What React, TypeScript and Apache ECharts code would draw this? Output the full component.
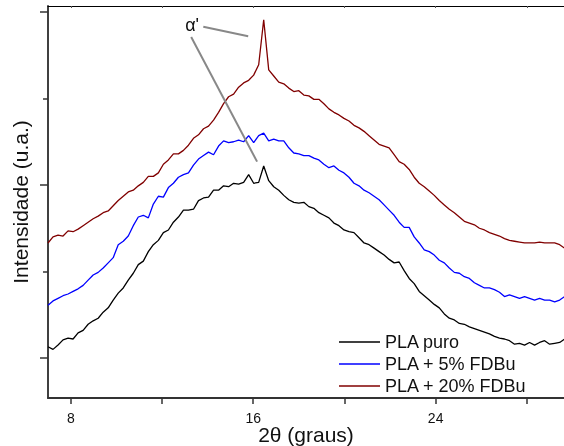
import React, { useEffect, useRef } from "react";
import * as echarts from "echarts";

// 2θ sampling grid of the diffractograms (degrees)
const TWO_THETA_START = 7.0;
const TWO_THETA_STEP = 0.22;

// Intensities (a.u., already vertically offset as in the figure)
const plaPuro = [
  0.13, 0.10, 0.15, 0.21, 0.23, 0.22, 0.29, 0.32, 0.39, 0.43,
  0.46, 0.53, 0.58, 0.67, 0.75, 0.81, 0.90, 0.98, 1.08, 1.12,
  1.23, 1.31, 1.36, 1.45, 1.48, 1.57, 1.63, 1.71, 1.71, 1.72,
  1.82, 1.85, 1.86, 1.94, 1.94, 1.99, 1.98, 2.02, 2.01, 2.03,
  2.12, 2.02, 2.03, 2.22, 2.05, 1.98, 1.94, 1.88, 1.83, 1.80,
  1.79, 1.80, 1.75, 1.73, 1.68, 1.65, 1.62, 1.56, 1.53, 1.48,
  1.46, 1.45, 1.39, 1.33, 1.31, 1.27, 1.23, 1.19, 1.14, 1.10,
  1.11, 1.01, 0.92, 0.86, 0.77, 0.72, 0.67, 0.62, 0.58, 0.51,
  0.46, 0.44, 0.40, 0.39, 0.36, 0.34, 0.32, 0.30, 0.28, 0.25,
  0.23, 0.22, 0.20, 0.16, 0.17, 0.15, 0.18, 0.15, 0.18, 0.20,
  0.16, 0.17, 0.18, 0.22,
];

const pla5 = [
  0.61, 0.66, 0.69, 0.72, 0.74, 0.77, 0.80, 0.84, 0.90, 0.96,
  0.99, 1.04, 1.10, 1.16, 1.31, 1.35, 1.41, 1.53, 1.63, 1.65,
  1.62, 1.78, 1.87, 1.86, 1.97, 2.02, 2.09, 2.12, 2.14, 2.23,
  2.30, 2.34, 2.38, 2.35, 2.45, 2.51, 2.49, 2.50, 2.52, 2.50,
  2.57, 2.49, 2.57, 2.60, 2.51, 2.53, 2.51, 2.51, 2.43, 2.37,
  2.36, 2.34, 2.34, 2.31, 2.29, 2.24, 2.20, 2.22, 2.17, 2.14,
  2.09, 2.02, 1.99, 1.94, 1.91, 1.87, 1.83, 1.77, 1.71, 1.65,
  1.57, 1.51, 1.51, 1.40, 1.33, 1.25, 1.23, 1.19, 1.13, 1.10,
  1.04, 0.99, 0.98, 0.94, 0.92, 0.87, 0.84, 0.81, 0.81, 0.79,
  0.76, 0.71, 0.73, 0.71, 0.69, 0.71, 0.69, 0.67, 0.69, 0.67,
  0.67, 0.65, 0.67, 0.71,
];

const pla20 = [
  1.33, 1.40, 1.42, 1.41, 1.47, 1.46, 1.49, 1.53, 1.57, 1.61,
  1.64, 1.68, 1.70, 1.76, 1.82, 1.87, 1.92, 1.94, 1.99, 2.03,
  2.10, 2.10, 2.14, 2.24, 2.29, 2.36, 2.36, 2.40, 2.46, 2.54,
  2.58, 2.65, 2.68, 2.75, 2.84, 2.94, 3.02, 3.05, 3.13, 3.18,
  3.21, 3.27, 3.39, 3.91, 3.33, 3.26, 3.19, 3.17, 3.12, 3.08,
  3.09, 3.04, 3.03, 2.99, 2.99, 2.94, 2.88, 2.84, 2.81, 2.77,
  2.74, 2.69, 2.66, 2.62, 2.57, 2.52, 2.47, 2.45, 2.43, 2.35,
  2.27, 2.24, 2.18, 2.09, 2.02, 1.98, 1.93, 1.88, 1.82, 1.77,
  1.72, 1.68, 1.63, 1.58, 1.56, 1.54, 1.50, 1.48, 1.45, 1.43,
  1.41, 1.38, 1.36, 1.35, 1.34, 1.33, 1.33, 1.33, 1.34, 1.33,
  1.33, 1.33, 1.31, 1.27,
];

const seriesNames = ["PLA puro", "PLA + 5% FDBu", "PLA + 20% FDBu"];
const seriesColors = ["#000000", "#0000ff", "#800000"];

const xTickValues = [8, 12, 16, 20, 24, 28];
const xLabelValues = [8, 16, 24];
const yMajorTicks = [0, 2, 4];
const yMinorTicks = [1, 3];

// α' annotation (data coordinates)
const alphaLabelPos = [13.32, 3.85];
const alphaLines = [
  [[13.81, 3.83], [15.78, 3.72]],
  [[13.28, 3.71], [16.17, 2.27]],
];

const X_MIN = 7.0;
const X_MAX = 29.63;
const Y_MIN = -0.462;
const Y_MAX = 4.069;

const FONT = "'Liberation Sans', Arial, Helvetica, sans-serif";

const toPairs = (ys: number[]) =>
  ys.map((y, i) => [+(TWO_THETA_START + TWO_THETA_STEP * i).toFixed(2), y]);

export default function App() {
  const ref = useRef<HTMLDivElement>(null);

  useEffect(() => {
    if (!ref.current) return;
    const chart = echarts.init(ref.current, null, { renderer: "svg" });
    const allData = [plaPuro, pla5, pla20];

    const series: any[] = allData.map((d, i) => ({
      name: seriesNames[i],
      type: "line",
      data: toPairs(d),
      showSymbol: false,
      symbol: "none",
      lineStyle: { color: seriesColors[i], width: 1.3 },
      itemStyle: { color: seriesColors[i] },
      clip: true,
      z: 3,
    }));

    series.push({
      name: "annotation",
      type: "line",
      data: [],
      silent: true,
      markLine: {
        silent: true,
        symbol: "none",
        label: { show: false },
        lineStyle: { color: "#888888", width: 2, type: "solid" },
        data: alphaLines.map(([a, b]) => [{ coord: a }, { coord: b }]),
      },
      markPoint: {
        silent: true,
        symbol: "circle",
        symbolSize: 0,
        label: {
          show: true,
          position: "inside",
          formatter: "α'",
          fontSize: 18,
          color: "#111",
          fontFamily: FONT,
        },
        data: [{ coord: alphaLabelPos }],
      },
    });

    chart.setOption({
      animation: false,
      grid: {
        left: 48,
        right: 0,
        top: 6,
        bottom: 48,
        containLabel: false,
        outerBoundsMode: "none",
      },
      legend: {
        data: seriesNames,
        orient: "vertical",
        left: 339,
        top: 333,
        padding: 0,
        itemWidth: 41,
        itemHeight: 14,
        itemGap: 4,
        textStyle: { fontSize: 18, color: "#111", fontFamily: FONT },
        icon: "path://M0,0 L41,0 L41,1.4 L0,1.4 Z",
      },
      xAxis: [
        {
          type: "value",
          min: X_MIN,
          max: X_MAX,
          position: "bottom",
          name: "2θ (graus)",
          nameLocation: "middle",
          nameGap: 26,
          nameMoveOverlap: false,
          nameTextStyle: { fontSize: 21, color: "#111", fontFamily: FONT },
          axisLine: { show: true, onZero: false, lineStyle: { color: "#333", width: 2 } },
          axisTick: {
            show: true,
            length: 6,
            customValues: xTickValues,
            lineStyle: { color: "#333", width: 1.5 },
          },
          axisLabel: {
            show: true,
            customValues: xLabelValues,
            fontSize: 14,
            margin: 13,
            color: "#111",
            fontFamily: FONT,
          },
          splitLine: { show: false },
        },
        {
          type: "value",
          min: X_MIN,
          max: X_MAX,
          position: "top",
          axisLine: { show: true, onZero: false, lineStyle: { color: "#000", width: 1 } },
          axisTick: {
            show: true,
            inside: true,
            length: 2,
            customValues: xTickValues,
            lineStyle: { color: "#555", width: 1 },
          },
          axisLabel: { show: false },
          splitLine: { show: false },
        },
      ],
      yAxis: [
        {
          type: "value",
          min: Y_MIN,
          max: Y_MAX,
          position: "left",
          name: "Intensidade (u.a.)",
          nameLocation: "middle",
          nameGap: 17,
          nameMoveOverlap: false,
          nameTextStyle: { fontSize: 21, color: "#111", fontFamily: FONT },
          axisLine: { show: true, onZero: false, lineStyle: { color: "#404040", width: 2 } },
          axisTick: {
            show: true,
            length: 8,
            customValues: yMajorTicks,
            lineStyle: { color: "#333", width: 1.5 },
          },
          axisLabel: { show: false },
          splitLine: { show: false },
        },
        {
          type: "value",
          min: Y_MIN,
          max: Y_MAX,
          position: "left",
          axisLine: { show: false, onZero: false },
          axisTick: {
            show: true,
            length: 5,
            customValues: yMinorTicks,
            lineStyle: { color: "#333", width: 1.5 },
          },
          axisLabel: { show: false },
          splitLine: { show: false },
        },
      ],
      series,
    });

    return () => chart.dispose();
  }, []);

  return (
    <div
      ref={ref}
      style={{ position: "fixed", left: 0, top: 0, width: 564, height: 446 }}
    />
  );
}
